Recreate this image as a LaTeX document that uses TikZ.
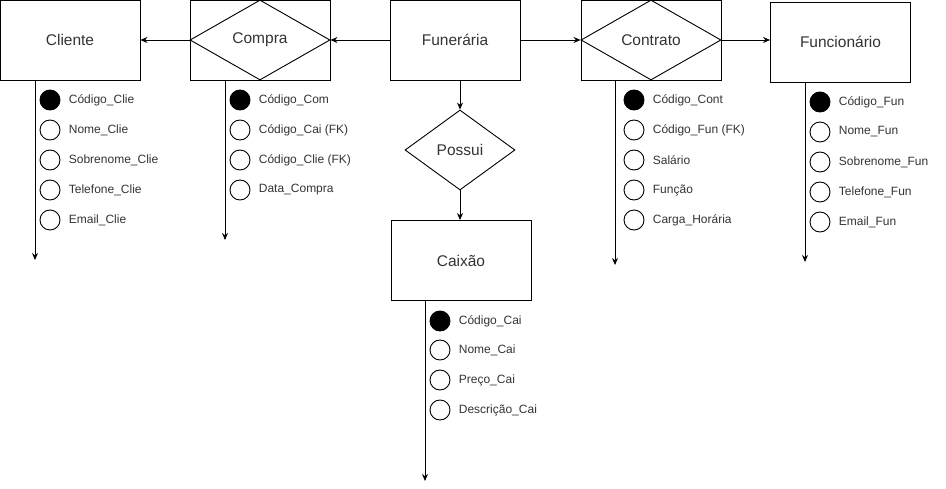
\documentclass[tikz,border=0pt]{standalone}
\usepackage{fontspec}
\setmainfont{Liberation Sans}
\usepackage{tikz}
\usetikzlibrary{positioning, shapes.geometric, arrows.meta}

\tikzset{
  entidade/.style={draw, rectangle, minimum width=140pt, minimum height=80pt, inner sep=0pt, font=\fontsize{15.5}{18}\selectfont, text=black!80},
  relacao/.style={draw, diamond, inner sep=0pt, font=\fontsize{15.5}{18}\selectfont, text=black!80},
  pk/.style={draw, circle, fill=black, minimum size=20pt, inner sep=0pt},
  atrib/.style={draw, circle, fill=white, minimum size=20pt, inner sep=0pt},
  every label/.style={font=\fontsize{12}{14}\selectfont, text=black!80, inner sep=0pt, xshift=8pt},
  seta/.style={-{Stealth[length=7pt, width=6pt]}}
}

\begin{document}
\begin{tikzpicture}[x=1pt, y=-1pt, line width=0.9pt]
\useasboundingbox (0,0) rectangle (946,489);

% entidades e relacionamentos
\node[entidade] at (70,40) (cliente) {Cliente} ;
\node[entidade] at (260,40) (compra) {} ;
\node[relacao, minimum width=140pt, minimum height=80pt, aspect=1.75] at (compra) (compraR) {Compra} ;
\node[entidade, minimum width=130pt] at (455,40) (funeraria) {Funerária} ;
\node[entidade] at (651,40) (contrato) {} ;
\node[relacao, minimum width=140pt, minimum height=80pt, aspect=1.75] at (contrato) (contratoR) {Contrato} ;
\node[entidade] at (840.5,42) (funcionario) {Funcionário} ;
\node[relacao, minimum width=110pt, minimum height=80pt, aspect=1.375] at (460,150) (possui) {Possui} ;
\node[entidade] at (461,260.5) (caixao) {Caixão} ;

\draw[seta] (compraR.west) -- (cliente.east) ;
\draw[seta] (funeraria.west) -- (compraR.east) ;
\draw[seta] (funeraria.east) -- (contratoR.west) ;
\draw[seta] (contratoR.east) -- (funcionario.west |- contratoR.east) ;
\draw[seta] (funeraria.south -| possui.north) -- (possui.north) ;
\draw[seta] (possui.south) -- (caixao.north -| possui.south) ;

% linhas dos atributos
\coordinate (fimClie) at (35,260) ;
\coordinate (fimCom) at (225,240) ;
\coordinate (fimCont) at (615,265) ;
\coordinate (fimFun) at (805,262) ;
\coordinate (fimCai) at (425,481) ;
\draw[seta] (cliente.south -| fimClie) -- (fimClie) ;
\draw[seta] (compra.south -| fimCom) -- (fimCom) ;
\draw[seta] (contrato.south -| fimCont) -- (fimCont) ;
\draw[seta] (funcionario.south -| fimFun) -- (fimFun) ;
\draw[seta] (caixao.south -| fimCai) -- (fimCai) ;

% Cliente
\node[pk, label=right:Código\_Clie] at (50,100) (clie1) {} ;
\node[atrib, label=right:Nome\_Clie] at (50,130) (clie2) {} ;
\node[atrib, label=right:Sobrenome\_Clie] at (50,160) (clie3) {} ;
\node[atrib, label=right:Telefone\_Clie] at (50,190) (clie4) {} ;
\node[atrib, label=right:Email\_Clie] at (50,220) (clie5) {} ;

% Compra
\node[pk, label=right:Código\_Com] at (240,100) (com1) {} ;
\node[atrib, label=right:Código\_Cai (FK)] at (240,130) (com2) {} ;
\node[atrib, label=right:Código\_Clie (FK)] at (240,160) (com3) {} ;
\node[atrib, label=right:Data\_Compra] at (240,190) (com4) {} ;

% Contrato
\node[pk, label=right:Código\_Cont] at (634,100) (cont1) {} ;
\node[atrib, label=right:Código\_Fun (FK)] at (634,130) (cont2) {} ;
\node[atrib, label=right:Salário] at (634,160) (cont3) {} ;
\node[atrib, label=right:Função] at (634,190) (cont4) {} ;
\node[atrib, label=right:Carga\_Horária] at (634,220) (cont5) {} ;

% Funcionario
\node[pk, label=right:Código\_Fun] at (820,102) (fun1) {} ;
\node[atrib, label=right:Nome\_Fun] at (820,132) (fun2) {} ;
\node[atrib, label=right:Sobrenome\_Fun] at (820,162) (fun3) {} ;
\node[atrib, label=right:Telefone\_Fun] at (820,192) (fun4) {} ;
\node[atrib, label=right:Email\_Fun] at (820,222) (fun5) {} ;

% Caixao
\node[pk, label=right:Código\_Cai] at (440,321) (cai1) {} ;
\node[atrib, label=right:Nome\_Cai] at (440,350) (cai2) {} ;
\node[atrib, label=right:Preço\_Cai] at (440,380) (cai3) {} ;
\node[atrib, label=right:Descrição\_Cai] at (440,410) (cai4) {} ;
\end{tikzpicture}
\end{document}
